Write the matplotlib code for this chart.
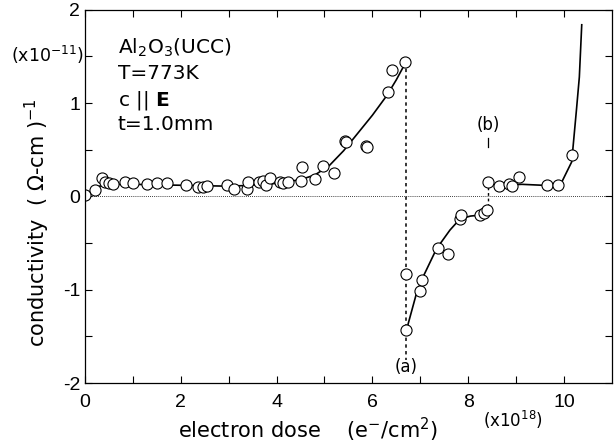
import matplotlib
matplotlib.use("Agg")
import matplotlib.pyplot as plt

plt.rcParams['font.family'] = ['DejaVu Sans']
plt.rcParams['mathtext.fontset'] = 'dejavusans'

# measured points, dose in 1e18 e-/cm2, conductivity in 1e-11 (ohm-cm)^-1
dose_before = [0.0, 0.21, 0.35, 0.42, 0.51, 0.59, 0.84, 1.0, 1.29, 1.51, 1.72,
               2.11, 2.37, 2.47, 2.54, 2.96, 3.11, 3.39, 3.41, 3.64, 3.72, 3.79,
               3.86, 4.08, 4.13, 4.24, 4.54, 4.52, 4.80, 4.98, 5.20, 5.43, 5.46,
               5.87, 5.89, 6.33, 6.42, 6.69]
cond_before = [0.02, 0.07, 0.20, 0.16, 0.14, 0.13, 0.16, 0.14, 0.13, 0.14, 0.14,
               0.12, 0.10, 0.10, 0.11, 0.12, 0.08, 0.08, 0.15, 0.15, 0.17, 0.12,
               0.20, 0.15, 0.14, 0.15, 0.32, 0.17, 0.19, 0.33, 0.25, 0.59, 0.58,
               0.54, 0.53, 1.12, 1.35, 1.44]

dose_neg = [6.70, 6.71, 6.99, 7.04, 7.36, 7.58, 7.83, 7.86, 8.25, 8.33, 8.40]
cond_neg = [-1.43, -0.83, -1.01, -0.89, -0.55, -0.62, -0.24, -0.20, -0.20, -0.18, -0.15]

dose_after = [8.41, 8.64, 8.86, 8.91, 9.06, 9.65, 9.88, 10.17]
cond_after = [0.15, 0.11, 0.13, 0.11, 0.21, 0.12, 0.12, 0.44]

# guide curves drawn by hand in the original
fit1_x = [0.0, 0.3, 0.6, 1.0, 2.0, 3.0, 3.5, 4.0, 4.5, 4.8, 5.1, 5.4, 5.7, 6.0, 6.3, 6.5, 6.7]
fit1_y = [0.02, 0.11, 0.13, 0.13, 0.12, 0.11, 0.12, 0.14, 0.18, 0.23, 0.33, 0.49, 0.68, 0.87, 1.08, 1.25, 1.44]
fit2_x = [6.72, 6.75, 6.92, 7.06, 7.34, 7.62, 7.83, 8.05, 8.25, 8.40]
fit2_y = [-1.43, -1.36, -1.04, -0.86, -0.56, -0.36, -0.24, -0.21, -0.20, -0.15]
fit3_x = [8.42, 8.7, 9.12, 9.55, 9.92, 10.16, 10.26, 10.32, 10.37]
fit3_y = [0.14, 0.12, 0.13, 0.12, 0.12, 0.37, 0.93, 1.28, 1.84]

xticks = [0, 2, 4, 6, 8, 10]
xtick_labels = ['0', '2', '4', '6', '8', '10']
yticks = [-2, -1, 0, 1, 2]
ytick_labels = ['-2', '-1', '0', '1', '2']

fig = plt.figure(figsize=(6.15, 4.47), dpi=100)
ax = fig.add_axes([0.138, 0.143, 0.857, 0.835])

ax.axhline(0, color='k', ls=(0, (1, 1.5)), lw=0.6)
ax.plot([6.71, 6.71], [1.44, -1.75], color='k', ls=(0, (2.2, 2.2)), lw=1.1)
ax.plot([8.42, 8.42], [0.1, -0.12], color='k', ls=(0, (2, 2)), lw=1.0)

for fx, fy in [(fit1_x, fit1_y), (fit2_x, fit2_y), (fit3_x, fit3_y)]:
    ax.plot(fx, fy, color='k', lw=1.2)

for dx, dy in [(dose_before, cond_before), (dose_neg, cond_neg), (dose_after, cond_after)]:
    ax.plot(dx, dy, 'o', mfc='white', mec='k', mew=0.8, ms=8, ls='none')

ax.set_xlim(0, 11)
ax.set_ylim(-2, 2)
ax.set_xticks(xticks)
ax.set_xticklabels(xtick_labels, fontfamily='Liberation Sans', fontsize=14)
ax.set_xticks(range(1, 11, 2), minor=True)
ax.set_yticks(yticks)
ax.set_yticklabels(ytick_labels, fontfamily='Liberation Sans', fontsize=14)
ax.set_yticks([-1.5, -0.5, 0.5, 1.5], minor=True)
ax.tick_params(which='both', direction='in', top=True, right=True, length=5, width=0.8)
ax.tick_params(axis='x', pad=8)
for s in ax.spines.values():
    s.set_linewidth(0.9)

ax.text(0.69, 1.59, 'Al$_2$O$_3$(UCC)', fontsize=14.5, va='center')
ax.text(0.69, 1.32, 'T=773K', fontsize=14.5, va='center')
ax.text(0.69, 1.03, r'c || $\mathbf{E}$', fontsize=14.5, va='center')
ax.text(0.69, 0.77, 't=1.0mm', fontsize=14.5, va='center')

ax.text(6.71, -1.83, '(a)', fontsize=12, ha='center', va='center')
ax.text(8.41, 0.77, '(b)', fontsize=12, ha='center', va='center')
ax.plot([8.42, 8.42], [0.53, 0.63], color='k', lw=0.9)

ax.text(-0.02, 1.52, '(x10$^{-11}$)', fontsize=12.5, ha='right', va='center')
ax.text(0.756, -0.099, '(x10$^{18}$)', fontsize=12, ha='left', va='center',
        transform=ax.transAxes)

ax.text(0.424, -0.126, 'electron dose    (e$^{-}$/cm$^{2}$)', fontsize=15,
        ha='center', va='center', transform=ax.transAxes)
ax.text(-0.091, 0.43, 'conductivity  ( Ω-cm )$^{-1}$', fontsize=15, rotation=90,
        ha='center', va='center', transform=ax.transAxes)

fig.savefig('out.png', dpi=100)
